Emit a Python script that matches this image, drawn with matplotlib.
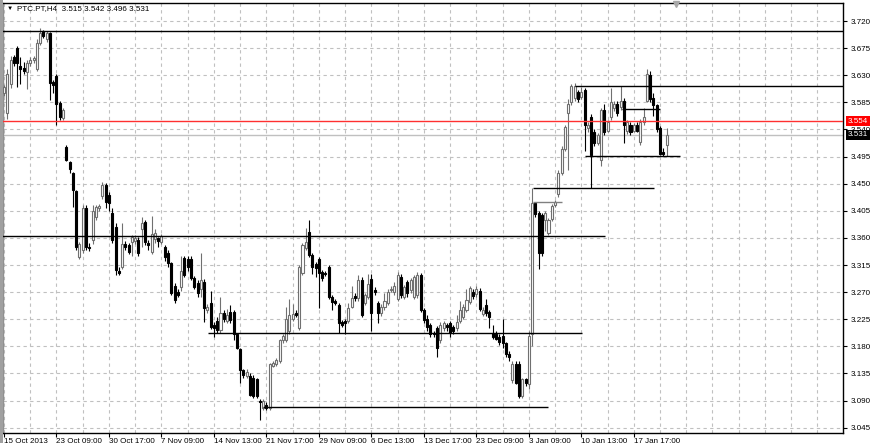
import matplotlib
matplotlib.use('Agg')
import numpy as np
import matplotlib.pyplot as plt
from matplotlib.ticker import FormatStrFormatter
from matplotlib.transforms import blended_transform_factory
from matplotlib.patches import Rectangle

plt.rcParams['font.family'] = ['Liberation Sans', 'DejaVu Sans']
plt.rcParams['font.size'] = 5.8

# PTC.PT H4 candles (open / high / low / close)
opens = [3.600, 3.568, 3.615, 3.660, 3.675, 3.645, 3.642, 3.636, 3.650, 3.655,
         3.640, 3.683, 3.703, 3.690, 3.700, 3.618, 3.629, 3.584, 3.559, 3.511,
         3.486, 3.468, 3.438, 3.328, 3.340, 3.410, 3.345, 3.357, 3.395, 3.410,
         3.430, 3.447, 3.432, 3.402, 3.378, 3.305, 3.312, 3.350, 3.348, 3.354,
         3.355, 3.356, 3.375, 3.386, 3.352, 3.337, 3.358, 3.360, 3.353, 3.345,
         3.335, 3.318, 3.280, 3.270, 3.278, 3.326, 3.325, 3.325, 3.293, 3.285,
         3.276, 3.287, 3.240, 3.252, 3.215, 3.222, 3.207, 3.235, 3.222, 3.237,
         3.237, 3.200, 3.175, 3.140, 3.130, 3.130, 3.128, 3.125, 3.090, 3.078,
         3.083, 3.078, 3.148, 3.150, 3.155, 3.190, 3.190, 3.205, 3.225, 3.236,
         3.210, 3.302, 3.343, 3.370, 3.332, 3.316, 3.325, 3.303, 3.302, 3.311,
         3.262, 3.255, 3.248, 3.220, 3.222, 3.222, 3.245, 3.263, 3.260, 3.290,
         3.252, 3.262, 3.292, 3.273, 3.252, 3.235, 3.245, 3.252, 3.273, 3.270,
         3.258, 3.295, 3.262, 3.287, 3.273, 3.262, 3.265, 3.298, 3.240, 3.225,
         3.216, 3.203, 3.210, 3.190, 3.210, 3.215, 3.218, 3.212, 3.210, 3.222,
         3.228, 3.240, 3.253, 3.270, 3.267, 3.272, 3.233, 3.248, 3.237, 3.202,
         3.201, 3.195, 3.198, 3.185, 3.168, 3.124, 3.150, 3.150, 3.097, 3.125,
         3.117, 3.200, 3.418, 3.402, 3.398, 3.390, 3.368, 3.392, 3.415, 3.433,
         3.468, 3.508, 3.568, 3.585, 3.592, 3.602, 3.594, 3.605, 3.543, 3.560,
         3.535, 3.518, 3.490, 3.572, 3.538, 3.560, 3.575, 3.583, 3.577, 3.588,
         3.538, 3.548, 3.538, 3.547, 3.520, 3.553, 3.588, 3.630, 3.592, 3.580,
         3.542, 3.502, 3.515]
highs = [3.614, 3.640, 3.662, 3.663, 3.678, 3.660, 3.652, 3.655, 3.660, 3.662,
         3.690, 3.708, 3.705, 3.703, 3.702, 3.622, 3.632, 3.588, 3.575, 3.515,
         3.488, 3.470, 3.440, 3.353, 3.414, 3.414, 3.352, 3.414, 3.415, 3.416,
         3.452, 3.451, 3.436, 3.410, 3.385, 3.312, 3.385, 3.355, 3.352, 3.365,
         3.365, 3.362, 3.395, 3.390, 3.356, 3.397, 3.375, 3.362, 3.366, 3.348,
         3.340, 3.320, 3.285, 3.275, 3.330, 3.330, 3.330, 3.330, 3.296, 3.290,
         3.335, 3.292, 3.250, 3.272, 3.220, 3.228, 3.262, 3.240, 3.242, 3.248,
         3.240, 3.203, 3.178, 3.143, 3.143, 3.135, 3.132, 3.128, 3.093, 3.093,
         3.088, 3.153, 3.156, 3.160, 3.192, 3.200, 3.245, 3.258, 3.250, 3.240,
         3.315, 3.352, 3.376, 3.390, 3.335, 3.320, 3.328, 3.306, 3.305, 3.315,
         3.265, 3.258, 3.252, 3.223, 3.226, 3.252, 3.280, 3.268, 3.298, 3.295,
         3.268, 3.300, 3.300, 3.278, 3.255, 3.250, 3.268, 3.275, 3.280, 3.287,
         3.303, 3.300, 3.282, 3.290, 3.293, 3.298, 3.303, 3.302, 3.243, 3.232,
         3.218, 3.206, 3.213, 3.220, 3.222, 3.218, 3.222, 3.215, 3.232, 3.255,
         3.250, 3.275, 3.280, 3.275, 3.280, 3.277, 3.245, 3.258, 3.240, 3.215,
         3.205, 3.200, 3.225, 3.188, 3.172, 3.155, 3.155, 3.155, 3.128, 3.128,
         3.205, 3.443, 3.420, 3.405, 3.402, 3.405, 3.393, 3.416, 3.423, 3.472,
         3.512, 3.548, 3.590, 3.615, 3.617, 3.606, 3.610, 3.608, 3.552, 3.565,
         3.540, 3.534, 3.575, 3.582, 3.556, 3.608, 3.588, 3.587, 3.612, 3.592,
         3.556, 3.552, 3.550, 3.552, 3.558, 3.575, 3.640, 3.637, 3.600, 3.583,
         3.546, 3.510, 3.542]
lows = [3.595, 3.558, 3.608, 3.645, 3.610, 3.615, 3.632, 3.607, 3.646, 3.650,
        3.637, 3.680, 3.692, 3.685, 3.589, 3.600, 3.547, 3.556, 3.556, 3.487,
        3.468, 3.411, 3.340, 3.325, 3.335, 3.340, 3.338, 3.350, 3.390, 3.405,
        3.425, 3.410, 3.405, 3.352, 3.298, 3.298, 3.308, 3.340, 3.333, 3.330,
        3.350, 3.330, 3.345, 3.348, 3.340, 3.333, 3.352, 3.345, 3.350, 3.322,
        3.312, 3.265, 3.252, 3.262, 3.272, 3.295, 3.305, 3.290, 3.275, 3.262,
        3.262, 3.220, 3.235, 3.208, 3.195, 3.203, 3.203, 3.220, 3.218, 3.218,
        3.190, 3.175, 3.120, 3.128, 3.127, 3.097, 3.095, 3.095, 3.058, 3.075,
        3.075, 3.075, 3.145, 3.147, 3.152, 3.186, 3.187, 3.200, 3.222, 3.228,
        3.207, 3.298, 3.340, 3.328, 3.300, 3.295, 3.244, 3.288, 3.297, 3.258,
        3.240, 3.248, 3.203, 3.212, 3.200, 3.218, 3.243, 3.255, 3.256, 3.228,
        3.248, 3.258, 3.205, 3.265, 3.218, 3.230, 3.240, 3.248, 3.270, 3.265,
        3.255, 3.260, 3.258, 3.262, 3.268, 3.258, 3.260, 3.237, 3.218, 3.205,
        3.196, 3.195, 3.162, 3.185, 3.205, 3.205, 3.195, 3.200, 3.205, 3.218,
        3.225, 3.237, 3.250, 3.258, 3.262, 3.238, 3.230, 3.230, 3.210, 3.192,
        3.190, 3.182, 3.178, 3.162, 3.155, 3.120, 3.117, 3.095, 3.095, 3.115,
        3.110, 3.180, 3.395, 3.308, 3.330, 3.372, 3.365, 3.388, 3.412, 3.428,
        3.465, 3.505, 3.472, 3.580, 3.588, 3.585, 3.590, 3.505, 3.535, 3.443,
        3.512, 3.515, 3.480, 3.530, 3.535, 3.556, 3.570, 3.563, 3.572, 3.518,
        3.533, 3.530, 3.535, 3.535, 3.515, 3.548, 3.585, 3.585, 3.563, 3.535,
        3.497, 3.496, 3.496]
closes = [3.610, 3.632, 3.655, 3.650, 3.650, 3.640, 3.637, 3.650, 3.655, 3.658,
          3.683, 3.700, 3.695, 3.700, 3.617, 3.613, 3.583, 3.561, 3.572, 3.489,
          3.474, 3.440, 3.345, 3.350, 3.410, 3.345, 3.343, 3.405, 3.412, 3.413,
          3.447, 3.420, 3.418, 3.356, 3.307, 3.302, 3.350, 3.345, 3.336, 3.361,
          3.360, 3.335, 3.384, 3.353, 3.348, 3.366, 3.368, 3.355, 3.363, 3.328,
          3.318, 3.268, 3.257, 3.265, 3.305, 3.298, 3.312, 3.293, 3.278, 3.268,
          3.290, 3.243, 3.246, 3.212, 3.210, 3.207, 3.235, 3.225, 3.232, 3.223,
          3.200, 3.178, 3.140, 3.132, 3.137, 3.100, 3.097, 3.097, 3.087, 3.090,
          3.078, 3.150, 3.153, 3.157, 3.190, 3.198, 3.225, 3.232, 3.233, 3.232,
          3.312, 3.348, 3.353, 3.332, 3.312, 3.310, 3.302, 3.293, 3.300, 3.262,
          3.253, 3.252, 3.218, 3.215, 3.218, 3.244, 3.260, 3.260, 3.290, 3.232,
          3.265, 3.283, 3.235, 3.271, 3.235, 3.245, 3.255, 3.270, 3.275, 3.280,
          3.298, 3.265, 3.278, 3.268, 3.290, 3.295, 3.298, 3.240, 3.223, 3.212,
          3.200, 3.200, 3.177, 3.215, 3.218, 3.212, 3.202, 3.205, 3.220, 3.240,
          3.245, 3.257, 3.277, 3.263, 3.275, 3.242, 3.240, 3.235, 3.228, 3.196,
          3.193, 3.187, 3.185, 3.168, 3.162, 3.150, 3.120, 3.097, 3.125, 3.120,
          3.198, 3.418, 3.400, 3.335, 3.335, 3.402, 3.390, 3.413, 3.420, 3.468,
          3.508, 3.544, 3.583, 3.612, 3.612, 3.590, 3.602, 3.547, 3.548, 3.497,
          3.518, 3.530, 3.572, 3.536, 3.552, 3.585, 3.583, 3.567, 3.588, 3.547,
          3.552, 3.536, 3.547, 3.538, 3.552, 3.560, 3.632, 3.590, 3.580, 3.540,
          3.500, 3.500, 3.531]

date_labels = ['15 Oct 2013', '23 Oct 09:00', '30 Oct 17:00', '7 Nov 09:00',
               '14 Nov 13:00', '21 Nov 17:00', '29 Nov 09:00', '6 Dec 13:00',
               '13 Dec 17:00', '23 Dec 09:00', '3 Jan 09:00', '10 Jan 13:00',
               '17 Jan 17:00']

# drawn horizontal lines: price, first bar, last bar
line_price = [3.703, 3.363, 3.202, 3.079, 3.612, 3.574, 3.496, 3.443, 3.419]
line_start = [-1, -1, 62.2, 79.0, 174.0, 188.4, 177.1, 161.3, 161.3]
line_end = [257, 183.2, 176.2, 165.9, 257, 200.0, 206.1, 198.2, 170.1]
line_color = ['black'] * 8 + ['#808080']

alert_price = 3.554
bid_price = 3.531
title = 'PTC.PT,H4  3.515 3.542 3.496 3.531'

o = np.array(opens); h = np.array(highs); l = np.array(lows); c = np.array(closes)
idx = np.arange(len(o))
up = c >= o

fig = plt.figure(figsize=(8.8, 4.43), dpi=100)
fig.patch.set_facecolor('white')
ax = fig.add_axes([3 / 880, 10 / 443, 840.3 / 880, 430.3 / 443])

ax.set_xlim(-0.305, 255.88)
ax.set_ylim(3.0362, 3.7504)

# grid
ax.set_yticks(np.arange(3.045, 3.7201, 0.045))
ax.yaxis.set_major_formatter(FormatStrFormatter('%.3f'))
ax.set_xticks(np.arange(0, 193, 16))
ax.set_xticklabels(date_labels)
ax.set_xticks(np.arange(0, 256, 8), minor=True)
ax.grid(True, which='both', color='#c0c0c0', linestyle=(0, (3, 3)), linewidth=0.8)
ax.set_axisbelow(True)

# candles
ax.vlines(idx[up], l[up], h[up], color='#707070', lw=0.8, zorder=3)
ax.vlines(idx[~up], l[~up], h[~up], color='black', lw=0.8, zorder=3)
body_lo = np.minimum(o, c)
body_h = np.maximum(np.abs(c - o), 0.0012)
ax.bar(idx[up], body_h[up], bottom=body_lo[up], width=0.62, color='white',
       edgecolor='#707070', linewidth=0.8, zorder=4)
ax.bar(idx[~up], body_h[~up], bottom=body_lo[~up], width=0.62, color='black',
       edgecolor='black', linewidth=0.8, zorder=4)

# horizontal objects
for p, x0, x1, col in zip(line_price, line_start, line_end, line_color):
    ax.hlines(p, x0, x1, color=col, lw=1.0, zorder=5)
ax.axhline(alert_price, color='#ff3030', lw=1.0, zorder=5)
ax.axhline(bid_price, color='#c0c0c0', lw=1.0, zorder=2)

# axes look
for s in ax.spines.values():
    s.set_color('black')
    s.set_linewidth(1.0)
ax.spines['left'].set_color('#909090')
ax.yaxis.tick_right()
ax.tick_params(axis='y', which='major', direction='out', length=3, width=0.8,
               pad=2, labelsize=5.8, colors='black')
ax.tick_params(axis='x', which='major', direction='out', length=3, width=0.8,
               pad=0.3, labelsize=5.8)
ax.tick_params(axis='x', which='minor', length=0)
for t in ax.get_xticklabels():
    t.set_horizontalalignment('left')

# price boxes on the right scale
trans = blended_transform_factory(ax.transAxes, ax.transData)
ax.text(1.0 + 4.5 / 840.3, alert_price, '3.554', transform=trans, color='white',
        ha='left', va='center', fontsize=5.8, zorder=10, clip_on=False,
        bbox=dict(boxstyle='square,pad=0.2', fc='#ff0000', ec='none'))
ax.text(1.0 + 4.5 / 840.3, bid_price, '3.531', transform=trans, color='white',
        ha='left', va='center', fontsize=5.8, zorder=10, clip_on=False,
        bbox=dict(boxstyle='square,pad=0.2', fc='black', ec='none'))

# shift marker at top
ax.plot([205], [0.996], marker='v', ms=5, color='#a8a8a8', mec='#a8a8a8',
        transform=blended_transform_factory(ax.transData, ax.transAxes),
        clip_on=False, zorder=10)

# header text
fig.text(7 / 880, 1 - 8.5 / 443, '\u25bc', fontsize=4.5, va='center', ha='left')
fig.text(17 / 880, 1 - 8.5 / 443, title, fontsize=5.8, va='center', ha='left')

# window border on the left
fig.add_artist(Rectangle((0, 0), 2.5 / 880, 1, transform=fig.transFigure,
                         color='#a0a0a0', lw=0))

fig.savefig('out.png', dpi=100, facecolor='white')
